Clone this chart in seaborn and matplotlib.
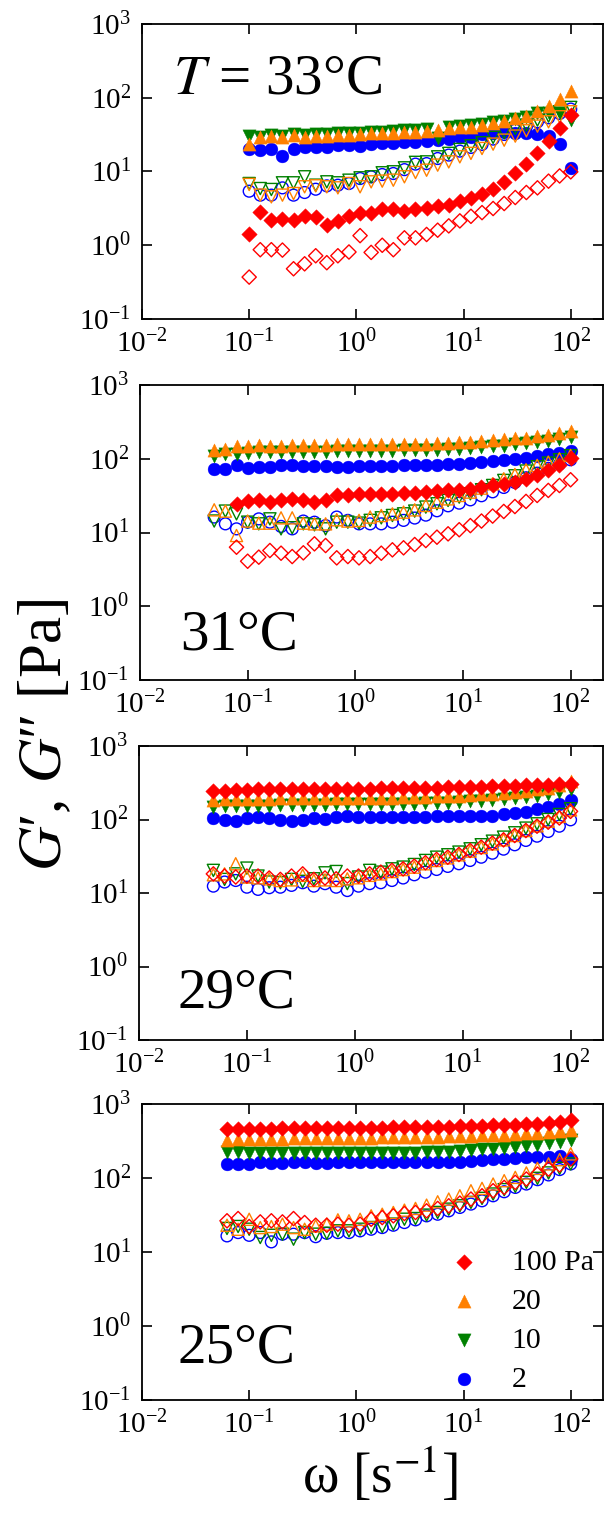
import matplotlib
matplotlib.use("Agg")
import matplotlib.pyplot as plt
import seaborn as sns
import pandas as pd
from matplotlib.ticker import LogLocator, NullLocator, LogFormatterSciNotation

# ---------------- data ----------------
# angular frequency grid [1/s]
omega = [0.0489, 0.0621, 0.0788, 0.1, 0.1269, 0.161, 0.2043, 0.2593, 0.329, 0.4175,
         0.5298, 0.6723, 0.853, 1.083, 1.374, 1.743, 2.212, 2.807, 3.562, 4.52,
         5.735, 7.277, 9.234, 11.72, 14.87, 18.87, 23.94, 30.38, 38.55, 48.92,
         62.07, 78.76, 100.0]

temp_labels = ["$T$ = 33°C", "31°C", "29°C", "25°C"]
leg_labels = ["2", "10", "20", "100 Pa"]

# T = 33 C (omega index 3..32)
T33_Gp_100 = [1.44, 2.83, 2.18, 2.30, 2.23, 2.50, 2.38, 1.91, 2.10, 2.50, 2.77, 2.77, 3.08, 3.08, 2.92,
              3.08, 3.15, 3.45, 3.56, 3.92, 4.35, 5.03, 5.87, 7.24, 9.6, 12.8, 17.9, 26.1, 39.2, 58.2]
T33_Gpp_100 = [0.37, 0.87, 0.87, 0.86, 0.48, 0.56, 0.72, 0.58, 0.72, 0.81, 1.35, 0.80, 1.0, 0.87, 1.26,
               1.26, 1.40, 1.60, 1.83, 2.14, 2.47, 2.77, 3.15, 3.68, 4.44, 5.19, 6.0, 7.4, 8.7, 9.9]
T33_Gp_20 = [23.5, 29.6, 30.2, 29.6, 30.8, 29.6, 30.2, 30.2, 31.1, 31.1, 31.8, 32.8, 32.8, 33.5, 34.2,
             34.5, 35.6, 36.4, 38.3, 39.6, 40.4, 42.5, 45.8, 48.8, 52.4, 56.4, 65.9, 77.1, 94.9, 124.5]
T33_Gpp_20 = [6.67, 4.78, 4.53, 4.78, 5.02, 6.20, 6.39, 6.20, 6.00, 6.87, 6.20, 7.24, 7.40, 7.62, 8.47,
              9.69, 10.4, 12.2, 13.5, 15.8, 17.6, 20.5, 23.5, 26.6, 30.2, 35.6, 41.2, 47.2, 55.2, 64.6]
T33_Gp_10 = [30.5, 29.6, 31.1, 30.5, 31.8, 31.1, 31.8, 32.1, 32.8, 32.8, 33.5, 34.2, 34.5, 35.3, 36.0,
             36.4, 37.2, 28.6, 39.6, 41.2, 42.6, 44.0, 46.3, 48.8, 50.8, 54.1, 61.2, 62.5, 61.2, 49.8]
T33_Gpp_10 = [6.87, 5.87, 5.70, 7.02, 7.02, 8.47, 6.52, 7.24, 7.02, 7.62, 8.20, 8.47, 9.6, 9.9, 11.2,
              13.3, 13.5, 15.8, 17.6, 19.9, 22.3, 24.5, 29.0, 33.5, 38.3, 42.6, 49.8, 56.4, 64.6, 73.9]
T33_Gp_2 = [20.1, 19.5, 19.9, 16.3, 20.1, 21.6, 21.6, 21.6, 22.8, 22.8, 22.1, 23.5, 24.0, 24.5, 25.0,
            25.3, 26.1, 26.6, 27.2, 29.0, 29.6, 31.8, 33.5, 34.5, 33.5, 33.5, 31.8, 30.2, 23.3, 11.2]
T33_Gpp_2 = [5.41, 4.78, 4.78, 6.00, 4.78, 5.19, 5.75, 6.39, 6.52, 6.87, 8.03, 8.47, 9.10, 9.39, 10.6,
             12.6, 12.8, 15.0, 16.7, 18.9, 21.2, 23.3, 27.5, 31.8, 36.4, 40.4, 47.2, 53.5, 61.2, 70.2]

# T = 31 C (omega index 0..32; 100 Pa from index 2)
T31_Gp_100 = [24.0, 26.6, 27.7, 25.8, 27.2, 28.6, 27.7, 25.8, 27.2, 31.8, 31.8, 32.8, 33.5, 33.5, 33.5,
              34.2, 34.2, 35.3, 36.1, 37.2, 38.0, 39.2, 41.2, 43.4, 45.8, 48.2, 53.5, 59.5, 69.5, 83.0, 103]
T31_Gpp_100 = [6.32, 4.08, 4.63, 5.70, 5.24, 4.72, 5.30, 7.02, 6.66, 4.53, 4.72, 4.53, 4.72, 5.24, 5.82,
               6.20, 6.87, 7.78, 8.64, 9.59, 10.9, 12.4, 14.3, 16.7, 19.3, 22.5, 26.4, 31.8, 37.2, 43.4, 51.9]
T31_Gp_20 = [133, 137, 150, 150, 153, 150, 150, 153, 153, 153, 153, 157, 157, 157, 157, 157, 157, 157,
             160, 160, 163, 163, 167, 170, 174, 177, 185, 189, 193, 201, 209, 223, 238]
T31_Gpp_20 = [20.3, 19.5, 9.1, 14.3, 13.4, 13.4, 15.8, 15.8, 13.4, 13.1, 13.1, 14.9, 14.3, 14.6, 16.2,
              17.0, 17.9, 18.9, 20.3, 23.3, 25.8, 28.6, 31.8, 35.3, 40.0, 45.8, 53.5, 61.2, 71.0, 81.3,
              90.1, 100, 111]
T31_Gp_10 = [107.6, 116.9, 114.5, 119.4, 121.9, 121.9, 121.9, 123.2, 124.5, 124.5, 124.5, 125.8, 125.8,
             127.1, 127.1, 128.4, 128.4, 129.8, 129.8, 131.2, 132.5, 135.3, 136.7, 139.6, 142.5, 147,
             150, 156.5, 161.5, 168.4, 175.6, 185, 197]
T31_Gpp_10 = [14.3, 19.5, 17.9, 13.8, 13.1, 15.3, 11.2, 11.6, 13.1, 12.7, 11.2, 13.8, 13.8, 13.4, 14.6,
              15.8, 17.0, 17.9, 19.5, 22.1, 24.5, 27.2, 30.2, 33.5, 38.0, 43.4, 50.8, 58.7, 68.1, 77.9,
              87.3, 96.9, 110]
T31_Gp_2 = [71.7, 73.1, 81.2, 74.7, 77.1, 77.1, 81.2, 82.9, 78.7, 79.5, 79.5, 77.1, 77.1, 78.7, 79.5,
            79.5, 79.5, 81.2, 81.2, 81.2, 82.9, 83.8, 85.5, 88.2, 90.1, 92.0, 94.9, 100, 103, 107.6,
            114.5, 119.4, 127]
T31_Gpp_2 = [16.2, 13.1, 11.2, 13.8, 15.3, 13.8, 12.1, 11.2, 14.3, 13.8, 12.4, 16.2, 14.6, 13.1, 13.1,
             13.1, 13.8, 14.6, 15.7, 17.2, 19.7, 23.0, 25.0, 27.7, 31.5, 35.6, 40.8, 47.7, 55.2, 63.8,
             73.9, 84.7, 96.9]

# T = 29 C (omega index 0..32)
T29_Gp_100 = [243, 248, 253, 253, 256, 258, 258, 258, 261, 261, 261, 264, 264, 264, 264, 267, 267, 267,
              269, 269, 272, 275, 275, 278, 281, 284, 287, 290, 293, 296, 299, 302, 305]
T29_Gpp_100 = [18.2, 17.0, 16.5, 17.0, 17.0, 16.0, 15.3, 17.0, 18.2, 15.3, 16.0, 15.6, 17.0, 17.0, 18.2,
               19.2, 20.3, 21.3, 23.2, 25.8, 28.6, 30.7, 33.4, 37.9, 42.1, 47.7, 52.9, 60.6, 70.8, 81.1,
               92.0, 105, 129]
T29_Gp_20 = [187, 189, 191, 191, 193, 193, 195, 195, 195, 195, 197, 197, 197, 197, 199, 199, 199, 201,
             201, 203, 206, 208, 210, 214, 219, 223, 230, 238, 248, 258, 272, 293, 329]
T29_Gpp_20 = [17.7, 18.2, 25.0, 16.5, 16.1, 15.6, 14.8, 15.1, 17.4, 14.8, 15.1, 14.8, 15.6, 16.1, 17.4,
              18.2, 19.6, 20.9, 22.5, 25.0, 27.7, 30.1, 33.1, 37.2, 41.6, 46.7, 52.9, 60.6, 70.8, 82.0,
              94.9, 110, 135]
T29_Gp_10 = [150, 153, 155, 155, 155, 155, 157, 157, 157, 158, 158, 160, 160, 160, 162, 162, 163, 163,
             165, 167, 169, 170, 174, 177, 181, 185, 191, 197, 203, 212, 223, 238, 256]
T29_Gpp_10 = [20.3, 15.3, 18.2, 21.8, 17.0, 14.1, 13.8, 15.3, 14.4, 15.6, 18.8, 19.6, 13.4, 16.5, 20.3,
              19.2, 21.3, 22.5, 24.4, 27.7, 30.7, 33.1, 36.0, 39.9, 45.3, 50.7, 57.5, 65.9, 76.3, 87.3,
              100, 117, 140]
T29_Gp_2 = [105, 100, 96.9, 104, 108, 105, 100, 96.9, 99, 105, 103, 108, 110, 108, 108, 108, 108, 108,
            108, 108, 110, 110, 110, 110, 113, 113, 117, 122, 128, 140, 150, 163, 185]
T29_Gpp_2 = [12.4, 14.1, 14.8, 12.0, 11.2, 11.8, 12.0, 12.7, 13.8, 12.4, 13.4, 12.0, 10.8, 12.4, 13.4,
             13.8, 14.8, 16.0, 17.7, 19.2, 20.9, 23.0, 25.0, 27.7, 30.7, 34.8, 39.5, 45.3, 51.9, 59.3,
             68.7, 81.1, 99.0]

# T = 25 C (omega index 1..32)
T25_Gp_100 = [453, 458, 463, 463, 463, 467, 467, 467, 472, 472, 472, 472, 477, 477, 477, 482, 482, 487,
              487, 492, 492, 498, 503, 508, 513, 519, 524, 529, 541, 552, 570, 600]
T25_Gpp_100 = [26.4, 28.3, 22.1, 25.5, 26.4, 25.5, 28.3, 25.0, 23.0, 23.0, 23.8, 23.0, 23.8, 27.7, 29.2,
               30.8, 33.1, 34.2, 36.0, 38.8, 42.1, 45.8, 51.9, 57.5, 67.3, 74.6, 87.3, 96.9, 113, 132,
               150, 181]
T25_Gp_20 = [331, 335, 338, 338, 338, 338, 342, 342, 342, 345, 345, 345, 349, 349, 353, 353, 356, 356,
             360, 360, 364, 368, 372, 376, 380, 384, 392, 400, 408, 417, 430, 448]
T25_Gpp_20 = [23.0, 20.3, 27.7, 21.4, 22.1, 23.8, 21.4, 20.3, 22.5, 23.8, 27.2, 26.4, 27.7, 30.8, 32.4,
              34.2, 36.8, 38.8, 43.0, 47.7, 51.9, 57.5, 67.3, 72.4, 82.9, 92.0, 102, 117, 135, 155, 177, 212]
T25_Gp_10 = [228, 223, 221, 218, 218, 216, 216, 216, 216, 216, 216, 216, 216, 218, 218, 218, 221, 221,
             223, 225, 228, 233, 238, 243, 248, 255, 264, 272, 283, 296, 308, 325]
T25_Gpp_10 = [20.8, 22.1, 20.3, 15.7, 16.8, 17.4, 14.9, 18.3, 17.4, 17.9, 19.3, 19.3, 20.3, 21.4, 22.1,
              23.8, 27.7, 28.3, 31.5, 34.2, 37.9, 42.1, 46.8, 53.0, 60.7, 69.5, 77.1, 87.3, 98.9, 117, 135, 155]
T25_Gp_2 = [155, 155, 155, 163, 158, 160, 163, 163, 160, 158, 163, 163, 163, 167, 167, 167, 167, 167,
            163, 163, 163, 167, 172, 175, 181, 181, 185, 191, 191, 195, 201, 181]
T25_Gpp_2 = [16.5, 18.3, 16.8, 18.3, 13.7, 17.4, 17.4, 18.3, 16.1, 17.9, 18.3, 18.3, 19.3, 20.3, 21.4,
             23.0, 25.0, 27.2, 30.8, 32.4, 36.0, 40.0, 44.4, 49.2, 57.5, 65.2, 74.6, 82.9, 94.9, 110, 130, 155]

# ---------------- style ----------------
sns.set_theme(style="ticks")
plt.rcParams['font.family'] = ['Liberation Serif', 'DejaVu Serif']
plt.rcParams['mathtext.fontset'] = 'stix'
for key in ['text.color', 'axes.labelcolor', 'xtick.color', 'ytick.color', 'axes.edgecolor']:
    plt.rcParams[key] = 'black'
plt.rcParams['xtick.direction'] = 'in'
plt.rcParams['ytick.direction'] = 'in'

RED, ORANGE, GREEN, BLUE = "#ff0000", "#ff8000", "#008000", "#0000ff"

fig = plt.figure(figsize=(6.09, 15.13), dpi=100)

rects = [
    [142 / 609, 1 - 319 / 1513, 461 / 609, 295 / 1513],
    [140 / 609, 1 - 680 / 1513, 463 / 609, 295 / 1513],
    [139 / 609, 1 - 1040 / 1513, 464 / 609, 294 / 1513],
    [142 / 609, 1 - 1400 / 1513, 461 / 609, 296 / 1513],
]

panels = [
    dict(data=[(T33_Gp_2, T33_Gpp_2, 3, 3), (T33_Gp_10, T33_Gpp_10, 3, 3),
               (T33_Gp_20, T33_Gpp_20, 3, 3), (T33_Gp_100, T33_Gpp_100, 3, 3)],
         open20="v", txt=(0.067, 0.766), label=temp_labels[0]),
    dict(data=[(T31_Gp_2, T31_Gpp_2, 0, 0), (T31_Gp_10, T31_Gpp_10, 0, 0),
               (T31_Gp_20, T31_Gpp_20, 0, 0), (T31_Gp_100, T31_Gpp_100, 2, 2)],
         open20="^", txt=(0.086, 0.105), label=temp_labels[1]),
    dict(data=[(T29_Gp_2, T29_Gpp_2, 0, 0), (T29_Gp_10, T29_Gpp_10, 0, 0),
               (T29_Gp_20, T29_Gpp_20, 0, 0), (T29_Gp_100, T29_Gpp_100, 0, 0)],
         open20="^", txt=(0.082, 0.109), label=temp_labels[2]),
    dict(data=[(T25_Gp_2, T25_Gpp_2, 1, 1), (T25_Gp_10, T25_Gpp_10, 1, 1),
               (T25_Gp_20, T25_Gpp_20, 1, 1), (T25_Gp_100, T25_Gpp_100, 1, 1)],
         open20="^", txt=(0.078, 0.128), label=temp_labels[3]),
]

colors = [BLUE, GREEN, ORANGE, RED]
markers = ["o", "v", "^", "D"]
sizes = [85, 90, 90, 62]

for k, (rect, p) in enumerate(zip(rects, panels)):
    ax = fig.add_axes(rect)
    for j, (gp, gpp, s0, s1) in enumerate(p["data"]):
        col, mk, sz = colors[j], markers[j], sizes[j]
        df1 = pd.DataFrame({"w": omega[s0:s0 + len(gp)], "G": gp})
        df2 = pd.DataFrame({"w": omega[s1:s1 + len(gpp)], "G": gpp})
        sns.scatterplot(data=df1, x="w", y="G", ax=ax, marker=mk, s=sz, color=col,
                        edgecolor=col, linewidth=0.3, zorder=3 + j, label=leg_labels[j])
        mk2 = p["open20"] if j == 2 else mk
        sns.scatterplot(data=df2, x="w", y="G", ax=ax, marker=mk2, s=sz * 0.85, color=col,
                        facecolor="none", edgecolor=col, linewidth=1.0, zorder=3 + j)
    ax.set_xscale("log")
    ax.set_yscale("log")
    ax.set_xlim(0.01, 200)
    ax.set_ylim(0.1, 1000)
    for axis in (ax.xaxis, ax.yaxis):
        axis.set_major_locator(LogLocator(base=10, numticks=10))
        axis.set_minor_locator(NullLocator())
        axis.set_major_formatter(LogFormatterSciNotation())
    ax.tick_params(which="major", direction="in", length=7, width=1.2,
                   top=True, right=True, labelsize=21, pad=8, colors="black")
    ax.set_xlabel("")
    ax.set_ylabel("")
    for sp in ax.spines.values():
        sp.set_visible(True)
        sp.set_color("black")
        sp.set_linewidth(1.3)
    ax.text(p["txt"][0], p["txt"][1], p["label"], transform=ax.transAxes,
            fontsize=41, ha="left", va="baseline", color="black")
    leg = ax.get_legend()
    if leg is not None:
        leg.remove()
    if k == 3:
        h, l = ax.get_legend_handles_labels()
        order = [3, 2, 1, 0]
        ax.legend([h[i] for i in order], [l[i] for i in order], loc="upper left",
                  bbox_to_anchor=(0.64, 0.55), frameon=False, fontsize=21.5,
                  handletextpad=1.1, labelspacing=0.4, handlelength=1.0,
                  borderaxespad=0, markerscale=1.0)

fig.text(0.075, 0.514, "$G$′, $G$″ [Pa]", rotation=90, fontsize=44,
         ha="center", va="center", color="black")
fig.text(0.625, 0.025, "ω [s$^{-1}$]", fontsize=40, ha="center", va="center",
         color="black")

fig.savefig("out.png", dpi=100)
